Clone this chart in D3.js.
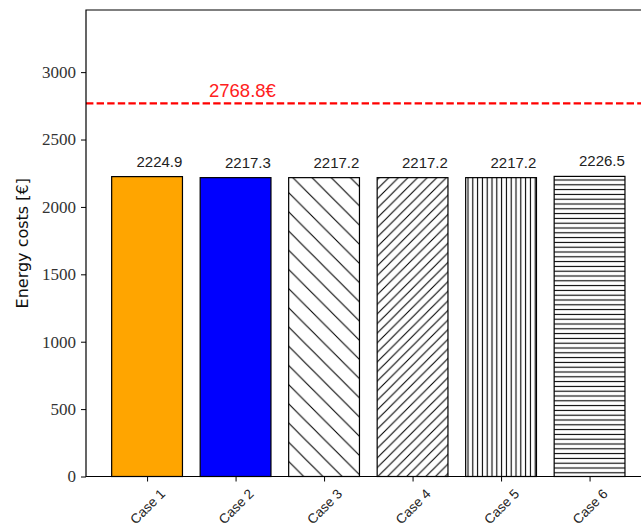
<!DOCTYPE html>
<html>
<head>
<meta charset="utf-8">
<script src="https://cdn.jsdelivr.net/npm/d3@7"></script>
<style>
  html, body { margin: 0; padding: 0; background: #fff; }
  svg { display: block; }
</style>
</head>
<body>
<svg id="chart" width="641" height="529"></svg>
<script>
// Energy cost per case, with the reference cost drawn as a dashed line
const cases = ["Case 1", "Case 2", "Case 3", "Case 4", "Case 5", "Case 6"];
const costs = [2224.9, 2217.3, 2217.2, 2217.2, 2217.2, 2226.5];
const fills = ["orange", "blue", "hatch-back", "hatch-fwd", "hatch-vert", "hatch-horiz"];
const referenceCost = 2768.8;
const yTicks = [0, 500, 1000, 1500, 2000, 2500, 3000];

const svg = d3.select("#chart");
const plot = { left: 86, top: 10, bottom: 476.5 };
const step = 88.5;

// bar positions: category index on a linear axis with 0.8-wide bars
const x = d3.scaleLinear().domain([-0.69, 5.69]).range([plot.left, plot.left + 6.38 * step]);
const y = d3.scaleLinear().domain([0, referenceCost * 1.25]).range([plot.bottom, plot.top]);
const barW = 0.8;

// hatch patterns
const defs = svg.append("defs");
function pattern(id, size, d) {
  const p = defs.append("pattern").attr("id", id)
    .attr("patternUnits", "userSpaceOnUse").attr("width", size).attr("height", size);
  p.append("rect").attr("width", size).attr("height", size).attr("fill", "#fff");
  p.append("path").attr("d", d).attr("stroke", "#000").attr("stroke-width", 1.1).attr("fill", "none");
}
{
  const a = 19.2;
  pattern("hatch-back", a, `M-1,-1L${a + 1},${a + 1}M-1,${a - 1}L1,${a + 1}M${a - 1},-1L${a + 1},1`);
  const b = 9.6;
  pattern("hatch-fwd", b, `M-1,${b + 1}L${b + 1},-1M-1,1L1,-1M${b - 1},${b + 1}L${b + 1},${b - 1}`);
  const c = 4.8;
  pattern("hatch-vert", c, `M${c / 2},0V${c}`);
  pattern("hatch-horiz", c, `M0,${c / 2}H${c}`);
}

const clipId = "plot-clip";
svg.append("clipPath").attr("id", clipId).append("rect")
  .attr("x", plot.left).attr("y", plot.top)
  .attr("width", 641 - plot.left).attr("height", plot.bottom - plot.top);

// bars
svg.append("g").selectAll("rect").data(costs).join("rect")
  .attr("x", (d, i) => x(i - barW / 2))
  .attr("y", d => y(d))
  .attr("width", (d, i) => x(i + barW / 2) - x(i - barW / 2))
  .attr("height", d => y(0) - y(d))
  .attr("fill", (d, i) => fills[i].startsWith("hatch") ? `url(#${fills[i]})` : fills[i])
  .attr("stroke", "#000").attr("stroke-width", 1.2);

// value labels
svg.append("g").selectAll("text").data(costs).join("text")
  .attr("x", (d, i) => x(i + 0.14))
  .attr("y", d => y(d + 75))
  .attr("text-anchor", "middle")
  .attr("font-family", "'Liberation Sans', Arial, sans-serif")
  .attr("font-size", 15)
  .attr("fill", "#222")
  .text(d => d.toFixed(1));

// reference cost line and label
svg.append("line")
  .attr("clip-path", `url(#${clipId})`)
  .attr("x1", plot.left).attr("x2", x(5.69))
  .attr("y1", y(referenceCost)).attr("y2", y(referenceCost))
  .attr("stroke", "red").attr("stroke-width", 2.2)
  .attr("stroke-dasharray", "7.4,3.2");
svg.append("text")
  .attr("x", x(0.7)).attr("y", y(referenceCost + 50))
  .attr("font-family", "'Liberation Sans', Arial, sans-serif")
  .attr("font-size", 18.5)
  .attr("fill", "#ff2020")
  .text(referenceCost.toFixed(1) + "€");

// y axis
const yAxis = svg.append("g").attr("transform", `translate(${plot.left},0)`)
  .call(d3.axisLeft(y).tickValues(yTicks).tickSize(5).tickPadding(5).tickFormat(d3.format("d")));
yAxis.select(".domain").remove();
yAxis.attr("font-family", null);
yAxis.selectAll("text")
  .style("font-family", "'Liberation Serif', 'Times New Roman', serif")
  .style("font-size", "17px").attr("fill", "#333");
yAxis.selectAll("line").attr("stroke", "#000").attr("stroke-width", 1);

// x axis
const xAxis = svg.append("g").attr("transform", `translate(0,${plot.bottom})`)
  .call(d3.axisBottom(x).tickValues(d3.range(cases.length)).tickSize(5).tickFormat(i => cases[i]));
xAxis.select(".domain").remove();
xAxis.selectAll("line").attr("stroke", "#000").attr("stroke-width", 1);
xAxis.selectAll("text")
  .style("font-family", "'Liberation Sans', Arial, sans-serif")
  .style("font-size", "13.5px").attr("fill", "#222")
  .attr("text-anchor", "middle")
  .attr("dy", "0.35em")
  .attr("transform", "translate(0,30) rotate(-45)")
  .attr("y", 0);

// spines: left, top, bottom
svg.append("path")
  .attr("d", `M${x(5.69)},${plot.top}H${plot.left}V${plot.bottom}H${x(5.69)}`)
  .attr("fill", "none").attr("stroke", "#000").attr("stroke-width", 1.2);

// y label
svg.append("text")
  .attr("transform", `translate(28,${(plot.top + plot.bottom) / 2}) rotate(-90)`)
  .attr("text-anchor", "middle")
  .attr("font-family", "'DejaVu Sans', sans-serif")
  .attr("font-size", 16).attr("fill", "#111")
  .text("Energy costs [€]");
</script>
</body>
</html>
